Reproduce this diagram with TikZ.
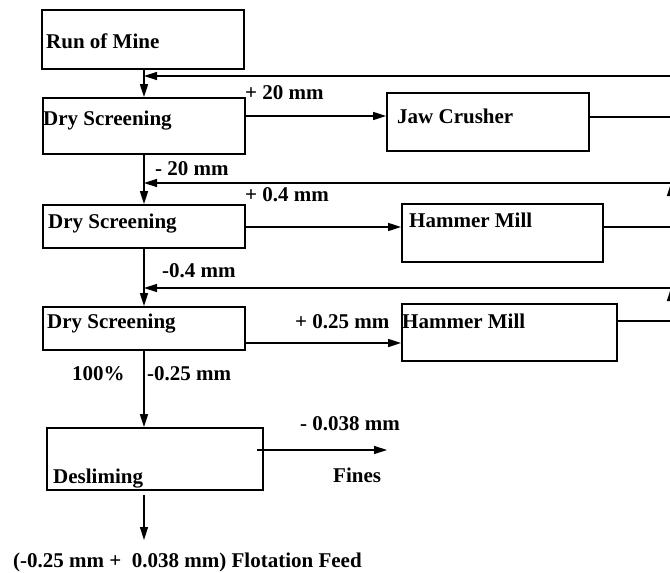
\documentclass[tikz,border=0pt]{standalone}
\usepackage{fontspec}
\setmainfont{Liberation Serif}
\usetikzlibrary{arrows.meta}
\begin{document}
\begin{tikzpicture}[x=1pt,y=-1pt,
  box/.style={draw, line width=1.8pt, inner sep=0pt},
  lbl/.style={inner sep=0pt, anchor=base west, font=\fontsize{21}{24}\selectfont\bfseries},
  conn/.style={line width=1.4pt},
  arr/.style={conn, -{Triangle[length=13pt,width=8pt]}}]
\useasboundingbox (0,0) rectangle (670,573);
% boxes
\node[box, minimum width=202pt, minimum height=59pt] (rom) at (143,39.5) {};
\node[box, minimum width=202pt, minimum height=56pt] (ds1) at (144,126) {};
\node[box, minimum width=202pt, minimum height=58pt] (jc) at (488,122) {};
\node[box, minimum width=202pt, minimum height=43pt] (ds2) at (144,226.5) {};
\node[box, minimum width=201pt, minimum height=58pt] (hm1) at (502.5,233) {};
\node[box, minimum width=202pt, minimum height=43pt] (ds3) at (144,328.5) {};
\node[box, minimum width=215pt, minimum height=57pt] (hm2) at (509.5,332.5) {};
\node[box, minimum width=216pt, minimum height=62pt] (des) at (155,459) {};
% texts
\node[lbl] (trom) at (46,48) {Run of Mine};
\node[lbl] (tds1) at (43,125) {Dry Screening};
\node[lbl] (tp20) at (245,99) {+ 20 mm};
\node[lbl] (tjc) at (397,123) {Jaw Crusher};
\node[lbl] (tm20) at (155,175) {- 20 mm};
\node[lbl] (tp04) at (245,201) {+ 0.4 mm};
\node[lbl] (tds2) at (48,228) {Dry Screening};
\node[lbl] (thm1) at (409,227) {Hammer Mill};
\node[lbl] (tm04) at (162,277) {-0.4 mm};
\node[lbl] (tds3) at (47,328) {Dry Screening};
\node[lbl] (tp025) at (295,328) {+ 0.25 mm};
\node[lbl] (thm2) at (402,328) {Hammer Mill};
\node[lbl] (t100) at (72,380) {100\%};
\node[lbl] (tm025) at (147,380) {-0.25 mm};
\node[lbl] (tm038) at (300,430) {- 0.038 mm};
\node[lbl] (tdes) at (53,483) {Desliming};
\node[lbl] (tfines) at (333,482) {Fines};
\node[lbl] (tfeed) at (13,567) {(-0.25 mm +\ \ 0.038 mm) Flotation Feed};
% corner coordinates (right edge, mostly outside the page)
\coordinate (r1) at (671,76);
\coordinate (r1b) at (671,117);
\coordinate (r2) at (671,183);
\coordinate (r2b) at (671,227);
\coordinate (r3) at (671,288);
\coordinate (r3b) at (671,321);
\coordinate (fstart) at (257,450);
\coordinate (fend) at (387,450);
\coordinate (dtop) at (144,495);
\coordinate (dend) at (144,540);
% main column
\draw[arr] (rom.south -| ds1.north) -- (ds1.north);
\draw[arr] (ds1.south) -- (ds2.north);
\draw[arr] (ds2.south) -- (ds3.north);
\draw[arr] (ds3.south) -- (ds3.south |- des.north);
\draw[arr] (dtop) -- (dend);
% to crushers / mills
\draw[arr] (ds1.east |- 0,116) -- (jc.west |- 0,116);
\draw[arr] (ds2.east |- 0,227) -- (hm1.west |- 0,227);
\draw[arr] (ds3.east |- 0,343) -- (hm2.west |- 0,343);
% recycle loops
\draw[conn] (jc.east |- r1b) -- (r1b) -- (r1);
\draw[arr] (r1) -- (ds1.north |- r1);
\draw[arr] (hm1.east |- r2b) -- (r2b) -- (r2);
\draw[arr] (r2) -- (ds1.south |- r2);
\draw[arr] (hm2.east |- r3b) -- (r3b) -- (r3);
\draw[arr] (r3) -- (ds2.south |- r3);
% fines
\draw[arr] (fstart) -- (fend);
\end{tikzpicture}
\end{document}
